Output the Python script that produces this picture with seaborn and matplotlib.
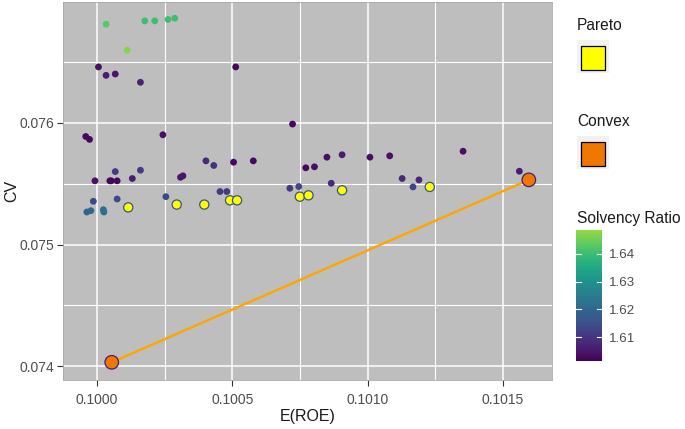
import numpy as np
import pandas as pd
import matplotlib
matplotlib.use('Agg')
import matplotlib.pyplot as plt
from matplotlib.patches import Rectangle
from matplotlib.colors import ListedColormap
from matplotlib.ticker import MultipleLocator
import seaborn as sns

# all simulated portfolios
roe = [0.100033, 0.100176, 0.100213, 0.100262, 0.100287, 0.100111,
       0.100005, 0.100033, 0.100067, 0.100160, 0.100512, 0.100722,
       0.099958, 0.099972, 0.100243, 0.100402, 0.100431, 0.100504,
       0.100577, 0.100771, 0.099992, 0.100047, 0.100052, 0.100074,
       0.100067, 0.100160, 0.100130, 0.100308, 0.100317, 0.100454,
       0.100479, 0.100712, 0.100745, 0.099986, 0.099962, 0.099977,
       0.100023, 0.100025, 0.100074, 0.100254, 0.100803, 0.100849,
       0.100905, 0.101008, 0.101081, 0.101352, 0.101127, 0.101189,
       0.101167, 0.100865, 0.101560]
cv = [0.076809, 0.076836, 0.076836, 0.076848, 0.076858, 0.076595,
      0.076458, 0.076389, 0.076400, 0.076332, 0.076458, 0.075989,
      0.075887, 0.075863, 0.075901, 0.075687, 0.075649, 0.075676,
      0.075687, 0.075630, 0.075523, 0.075523, 0.075523, 0.075523,
      0.075599, 0.075610, 0.075542, 0.075552, 0.075564, 0.075435,
      0.075435, 0.075462, 0.075476, 0.075355, 0.075267, 0.075278,
      0.075286, 0.075267, 0.075374, 0.075393, 0.075638, 0.075717,
      0.075737, 0.075717, 0.075728, 0.075766, 0.075542, 0.075531,
      0.075473, 0.075503, 0.075602]
solvency = [1.643, 1.640, 1.640, 1.640, 1.640, 1.647,
            1.604, 1.606, 1.605, 1.607, 1.603, 1.603,
            1.603, 1.603, 1.604, 1.608, 1.610, 1.603,
            1.603, 1.603, 1.604, 1.603, 1.603, 1.603,
            1.611, 1.611, 1.606, 1.605, 1.605, 1.611,
            1.611, 1.611, 1.613, 1.614, 1.619, 1.620,
            1.622, 1.622, 1.614, 1.614, 1.604, 1.604,
            1.606, 1.604, 1.604, 1.604, 1.608, 1.608,
            1.613, 1.608, 1.606]

# pareto front
pareto_roe = [0.100115, 0.100294, 0.100396, 0.100491, 0.100517, 0.100749,
              0.100781, 0.100905, 0.101229]
pareto_cv = [0.075305, 0.075328, 0.075328, 0.075363, 0.075363, 0.075393,
             0.075404, 0.075445, 0.075473]
pareto_sr = [1.616, 1.616, 1.616, 1.616, 1.616, 1.616, 1.616, 1.616, 1.616]

# convex hull points
convex_roe = [0.100054, 0.101595]
convex_cv = [0.074033, 0.075531]
convex_sr = [1.606, 1.606]

sr_min, sr_max = 1.6016, 1.6484
cbar_ticks = [1.61, 1.62, 1.63, 1.64]

df = pd.DataFrame({'roe': roe, 'cv': cv, 'sr': solvency})
par = pd.DataFrame({'roe': pareto_roe, 'cv': pareto_cv, 'sr': pareto_sr})
cvx = pd.DataFrame({'roe': convex_roe, 'cv': convex_cv, 'sr': convex_sr})

plt.rcParams['font.family'] = ['Liberation Sans', 'DejaVu Sans']
cmap = ListedColormap(plt.get_cmap('viridis')(np.linspace(0, 0.84, 256)))
norm = plt.Normalize(sr_min, sr_max)

fig = plt.figure(figsize=(6.85, 4.29), dpi=100)
ax = fig.add_axes([0.092, 0.114, 0.714, 0.881])
ax.set_facecolor('#BEBEBE')
ax.set_axisbelow(True)

sns.scatterplot(data=df, x='roe', y='cv', hue='sr', palette=cmap,
                hue_norm=(sr_min, sr_max), s=24, linewidth=0, legend=False,
                ax=ax, zorder=3)
sns.lineplot(data=cvx, x='roe', y='cv', color='#FFA500', linewidth=1.7,
             ax=ax, zorder=4)
sns.scatterplot(data=par, x='roe', y='cv', color='#FFFF00', s=44,
                edgecolor=[cmap(norm(v)) for v in par['sr']], linewidth=0.9,
                legend=False, ax=ax, zorder=5)
sns.scatterplot(data=cvx, x='roe', y='cv', color='#F07800', s=95,
                edgecolor=[cmap(norm(v)) for v in cvx['sr']], linewidth=0.9,
                legend=False, ax=ax, zorder=6)

ax.set_xlim(0.099874, 0.101681)
ax.set_ylim(0.073887, 0.07699)
ax.xaxis.set_major_locator(MultipleLocator(0.0005))
ax.xaxis.set_minor_locator(MultipleLocator(0.00025))
ax.yaxis.set_major_locator(MultipleLocator(0.001))
ax.yaxis.set_minor_locator(MultipleLocator(0.0005))
ax.xaxis.set_major_formatter(plt.FuncFormatter(lambda v, p: f'{v:.4f}'))
ax.yaxis.set_major_formatter(plt.FuncFormatter(lambda v, p: f'{v:.3f}'))
ax.grid(which='major', color='white', linewidth=1.1)
ax.grid(which='minor', color='white', linewidth=0.8)
ax.tick_params(which='major', length=4, width=0.8, color='#333333',
               labelcolor='#4D4D4D', labelsize=10)
ax.tick_params(axis='x', which='major', pad=5.5)
ax.tick_params(axis='y', which='major', pad=2.5)
ax.tick_params(which='minor', length=0)
for sp in ax.spines.values():
    sp.set_color('#A9A9A9')
    sp.set_linewidth(0.6)
ax.set_xlabel('E(ROE)', fontsize=11.5, color='#1A1A1A')
ax.set_ylabel('CV', fontsize=11.5, color='#1A1A1A')
ax.xaxis.set_label_coords(0.5, -0.097)
ax.xaxis.label.set_va('center')
ax.yaxis.set_label_coords(-0.104, 0.5)
ax.yaxis.label.set_va('center')

# legend keys for Pareto and Convex
def key(y_top, title, fill):
    fig.text(577 / 685, 1 - y_top / 429, title, fontsize=11.2,
             color='#1A1A1A', va='center', ha='left')
    bg = Rectangle((577 / 685, 1 - (y_top + 48) / 429), 32 / 685, 33 / 429,
                   transform=fig.transFigure, facecolor='#F2F2F2',
                   edgecolor='none')
    sq = Rectangle((581 / 685, 1 - (y_top + 45) / 429), 24 / 685, 24 / 429,
                   transform=fig.transFigure, facecolor=fill,
                   edgecolor='black', linewidth=0.9)
    fig.patches.extend([bg, sq])

key(25, 'Pareto', '#FFFF00')
key(121, 'Convex', '#F07800')

fig.text(577 / 685, 1 - 218 / 429, 'Solvency Ratio', fontsize=11.2,
         color='#1A1A1A', va='center', ha='left')
cax = fig.add_axes([576 / 685, 68 / 429, 26 / 685, 131 / 429])
sm = plt.cm.ScalarMappable(norm=norm, cmap=cmap)
cb = fig.colorbar(sm, cax=cax, ticks=cbar_ticks)
cb.outline.set_visible(False)
cb.ax.tick_params(length=0, labelsize=9.6, labelcolor='#4D4D4D', pad=5)
for t in cbar_ticks:
    cax.plot([0, 0.2], [t, t], color='white', lw=0.8,
             transform=cax.get_yaxis_transform())
    cax.plot([0.8, 1], [t, t], color='white', lw=0.8,
             transform=cax.get_yaxis_transform())

fig.savefig('out.png', dpi=100)
